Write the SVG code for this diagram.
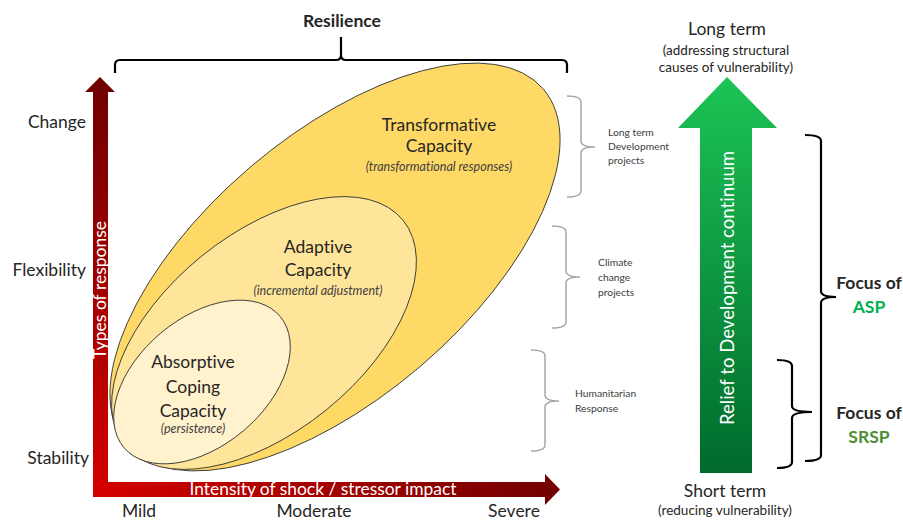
<svg xmlns="http://www.w3.org/2000/svg" width="903" height="522" viewBox="0 0 903 522">
<style>
text{font-family:Lato,"Liberation Sans",sans-serif;fill:#262626;font-variant-ligatures:none}
.lab{font-size:17.5px}
.big{font-size:17.5px}
.it{font-size:12.5px;font-style:italic;fill:#404040}
.sm{font-size:10.3px;fill:#404040}
.par{font-size:13.5px}
.bold{font-weight:bold;font-size:17.5px}
.wt{fill:#ffffff}
.mid{text-anchor:middle}
.end{text-anchor:end}
.ell{stroke:#3a3a3a;stroke-width:0.9}
.gb{fill:none;stroke:#a6a6a6;stroke-width:1.5}
.kb{fill:none;stroke:#000;stroke-width:2.2}
</style>
<defs>
<linearGradient id="rv" gradientUnits="userSpaceOnUse" x1="0" y1="77" x2="0" y2="497"><stop offset="0" stop-color="#6e0000"/><stop offset="1" stop-color="#d40000"/></linearGradient>
<linearGradient id="rh" gradientUnits="userSpaceOnUse" x1="93" y1="0" x2="560" y2="0"><stop offset="0" stop-color="#d40000"/><stop offset="1" stop-color="#720000"/></linearGradient>
<linearGradient id="gv" gradientUnits="userSpaceOnUse" x1="0" y1="77" x2="0" y2="473"><stop offset="0" stop-color="#1cc455"/><stop offset="1" stop-color="#006a2c"/></linearGradient>
</defs>

<g id="resilience">
<text class="bold mid" x="342" y="27">Resilience</text>
</g>

<g id="ellipses">
<g id="transformative">
<ellipse class="ell" fill="#ffd966" cx="0" cy="0" rx="274" ry="131" transform="translate(335,267) rotate(-40.5)"/>
<text class="big mid" x="439" y="131">Transformative</text>
<text class="big mid" x="439" y="152">Capacity</text>
<text class="it mid" x="439" y="171">(transformational responses)</text>
</g>
<g id="adaptive">
<ellipse class="ell" fill="#ffe599" cx="0" cy="0" rx="179" ry="99" transform="translate(264,333) rotate(-39)"/>
<text class="big mid" x="318" y="253">Adaptive</text>
<text class="big mid" x="318" y="276">Capacity</text>
<text class="it mid" x="318" y="295">(incremental adjustment)</text>
</g>
<g id="absorptive">
<ellipse class="ell" fill="#fff2cc" cx="0" cy="0" rx="102" ry="64" transform="translate(202,382) rotate(-40)"/>
<text class="big mid" x="193" y="368">Absorptive</text>
<text class="big mid" x="193" y="393">Coping</text>
<text class="big mid" x="193" y="417">Capacity</text>
<text class="it mid" x="193" y="433">(persistence)</text>
</g>
</g>

<g id="y-axis">
<polygon fill="url(#rv)" points="100,77 115,92 108,92 108,497 93,497 93,92 85,92"/>
<text class="lab wt mid" transform="translate(106,290) rotate(-90)">Types of response</text>
<text class="lab end" x="86" y="128">Change</text>
<text class="lab end" x="86" y="276">Flexibility</text>
<text class="lab end" x="89" y="464">Stability</text>
</g>

<g id="x-axis">
<polygon fill="url(#rh)" points="93,482 545,482 545,474 560,489.5 545,505 545,497 93,497"/>
<text class="lab wt mid" x="323" y="495" style="font-size:17.4px">Intensity of shock / stressor impact</text>
<text class="lab mid" x="139" y="517">Mild</text>
<text class="lab mid" x="314" y="517">Moderate</text>
<text class="lab mid" x="514" y="517">Severe</text>
</g>

<g id="project-labels">
<text class="sm" x="608" y="136">Long term</text>
<text class="sm" x="608" y="150">Development</text>
<text class="sm" x="608" y="164">projects</text>
<text class="sm" x="598" y="266">Climate</text>
<text class="sm" x="598" y="281">change</text>
<text class="sm" x="598" y="296">projects</text>
<text class="sm" x="575" y="397">Humanitarian</text>
<text class="sm" x="575" y="412">Response</text>
</g>

<g id="continuum">
<polygon fill="url(#gv)" points="727,77 777,128 752,128 752,473 700,473 700,128 678,128"/>
<text class="wt mid" style="font-size:18.6px" transform="translate(734,288) rotate(-90)">Relief to Development continuum</text>
<text class="big mid" x="727" y="35">Long term</text>
<text class="par mid" x="726" y="55">(addressing structural</text>
<text class="par mid" x="726" y="72">causes of vulnerability)</text>
<text class="big mid" x="725" y="497">Short term</text>
<text class="par mid" x="725" y="515">(reducing vulnerability)</text>
</g>

<g id="focus-asp">
<text class="bold mid" x="869" y="289">Focus of</text>
<text class="bold mid" x="869" y="313" style="fill:#00b050">ASP</text>
</g>
<g id="focus-srsp">
<text class="bold mid" x="869" y="419">Focus of</text>
<text class="bold mid" x="869" y="443" style="fill:#4e8f34">SRSP</text>
</g>

<g id="connectors">
<path class="kb" d="M115,73 L115,65 Q115,60 120,60 L336,60 Q341,60 341,55 L341,37 M341,55 Q341,60 346,60 L562,60 Q567,60 567,65 L567,73"/>
<path class="gb" d="M567,96 Q581,96 581,102 L581,141 Q581,147 595,147 Q581,147 581,153 L581,191 Q581,197 567,197"/>
<path class="gb" d="M552,226 Q566,226 566,232 L566,271 Q566,277 580,277 Q566,277 566,283 L566,322 Q566,328 552,328"/>
<path class="gb" d="M531,350 Q545,350 545,356 L545,395 Q545,401 559,401 Q545,401 545,407 L545,445 Q545,451 531,451"/>
<path class="kb" d="M805,135 Q821,135 821,141 L821,291 Q821,297 836,297 Q821,297 821,303 L821,455 Q821,461 805,461"/>
<path class="kb" d="M777,360 Q792,360 792,366 L792,406 Q792,412 812,412 Q792,412 792,418 L792,462 Q792,468 777,468"/>
</g>
</svg>
